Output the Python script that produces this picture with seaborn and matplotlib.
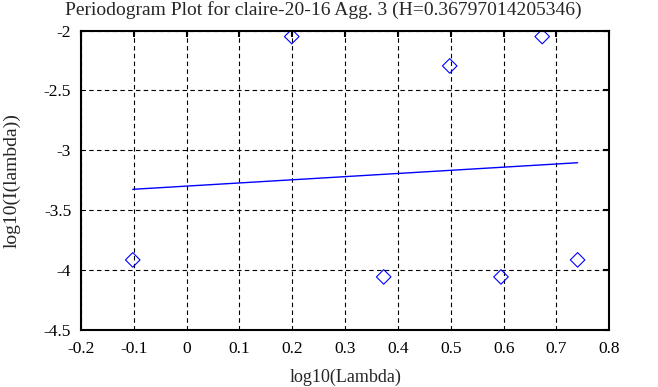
import numpy as np
import pandas as pd
import matplotlib
matplotlib.use("Agg")
import matplotlib.pyplot as plt
import seaborn as sns

# --- datos ---
log_lambda = [-0.102, 0.199, 0.373, 0.498, 0.595, 0.673, 0.740]
log_periodogram = [-3.914, -2.05, -4.056, -2.295, -4.056, -2.05, -3.914]
fit_x = [-0.102, 0.740]
fit_y = [-3.325, -3.103]
x_ticks = [-0.2, -0.1, 0, 0.1, 0.2, 0.3, 0.4, 0.5, 0.6, 0.7, 0.8]
x_tick_labels = ["-0.2", "-0.1", "0", "0.1", "0.2", "0.3", "0.4", "0.5", "0.6", "0.7", "0.8"]
y_ticks = [-4.5, -4, -3.5, -3, -2.5, -2]
y_tick_labels = ["-4.5", "-4", "-3.5", "-3", "-2.5", "-2"]
titulo = "Periodogram Plot for claire-20-16 Agg. 3 (H=0.36797014205346)"

sns.set_style("white")
plt.rcParams["font.family"] = ["Liberation Serif", "DejaVu Serif"]
plt.rcParams["axes.unicode_minus"] = False

df_pts = pd.DataFrame({"x": log_lambda, "y": log_periodogram})
df_fit = pd.DataFrame({"x": fit_x, "y": fit_y})

fig = plt.figure(figsize=(6.58, 3.87), dpi=100)
ax = fig.add_axes([0.123, 0.147, 0.803, 0.774])

ax.grid(True, color="black", linestyle=(0, (4, 3)), linewidth=0.8)
ax.set_axisbelow(True)

sns.lineplot(data=df_fit, x="x", y="y", color="#0000ff", linewidth=1.0, ax=ax)
sns.scatterplot(data=df_pts, x="x", y="y", marker="D", s=55,
                facecolor="none", edgecolor="#0000ff", linewidth=0.8, ax=ax)

ax.set_xlim(-0.2, 0.8)
ax.set_ylim(-4.5, -2)
ax.set_xticks(x_ticks)
ax.set_xticklabels(x_tick_labels)
ax.set_yticks(y_ticks)
ax.set_yticklabels(y_tick_labels)
ax.tick_params(direction="in", length=4, width=1.5, top=True, right=True,
               labelsize=12.5, colors="black")
ax.tick_params(axis="x", pad=8)
ax.tick_params(axis="y", pad=7)

for sp in ax.spines.values():
    sp.set_visible(True)
    sp.set_color("black")
    sp.set_linewidth(1.5)

# el titulo original esta algo desplazado a la izquierda
ax.set_title(titulo, fontsize=14, pad=11, x=0.459)
ax.set_xlabel("log10(Lambda)", fontsize=13, labelpad=8)
ax.set_ylabel("log10(I(lambda))", fontsize=14, labelpad=17)

fig.savefig("out.png", dpi=100)
